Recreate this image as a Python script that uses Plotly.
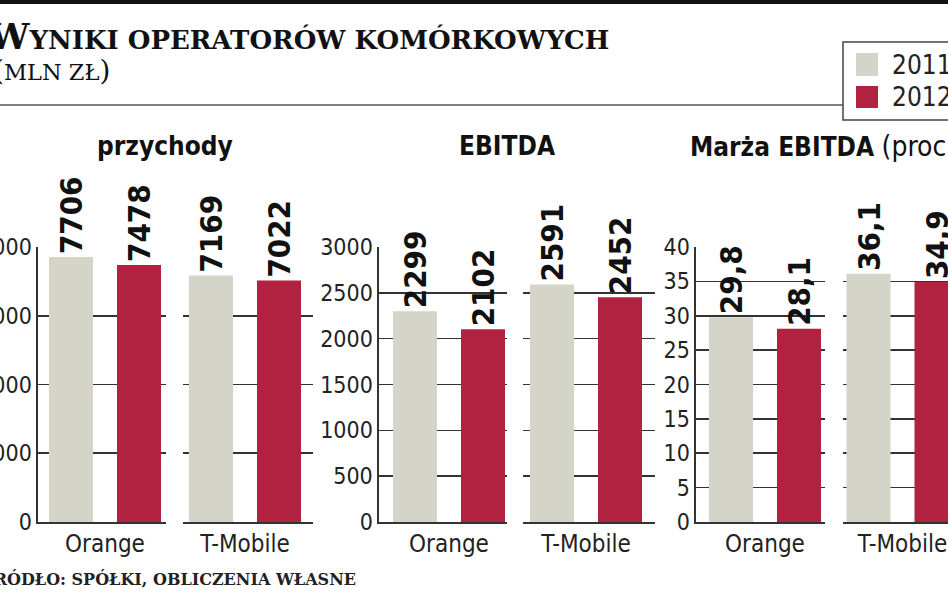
import plotly.graph_objects as go

# ---------------- data ----------------
categories = ["Orange", "T-Mobile"]
years = ["2011", "2012"]
przychody_2011 = [7706, 7169]
przychody_2012 = [7478, 7022]
ebitda_2011 = [2299, 2591]
ebitda_2012 = [2102, 2452]
marza_2011 = [29.8, 36.1]
marza_2012 = [28.1, 34.9]
panel_titles = ["<b>przychody</b>", "<b>EBITDA</b>",
                '<b>Marża EBITDA</b> <span style="font-size:28px">(proc.)</span>']
main_title = '<span style="font-size:36px">W</span>YNIKI OPERATORÓW KOMÓRKOWYCH'
subtitle = '<span style="font-size:28px">(</span>MLN ZŁ<span style="font-size:28px">)</span>'
source_text = "ŹRÓDŁO: SPÓŁKI, OBLICZENIA WŁASNE"

# ---------------- style ----------------
W, H = 948, 593
GRAY = "#d4d4c9"
RED = "#b0223f"
LINE = "#333333"
COND = "DejaVu Sans Condensed, DejaVu Sans, sans-serif"
SERIF = "DejaVu Serif, Liberation Serif, serif"
U = 160.0  # px per category unit


def px(x):
    return x / W


def py(y):
    return 1 - y / H


ydom = [py(522), py(247)]

panels = [
    dict(v2011=przychody_2011, v2012=przychody_2012, rng=[0, 8000], dtick=2000,
         fmt="%{y:.0f}", segs=[(38, 166, 105), (183, 313, 245)], tx=164.5, anchor="center"),
    dict(v2011=ebitda_2011, v2012=ebitda_2012, rng=[0, 3000], dtick=500,
         fmt="%{y:.0f}", segs=[(379, 507, 449), (523, 655, 586)], tx=507, anchor="center"),
    dict(v2011=marza_2011, v2012=marza_2012, rng=[0, 40], dtick=5,
         fmt="%{y:.1f}", segs=[(696, 825, 765), (843, 948, 902.5)], tx=688, anchor="left"),
]

fig = go.Figure()
layout_axes = {}
n = 0
for p in panels:
    for si, (d0, d1, c) in enumerate(p["segs"]):
        n += 1
        xa = "x" if n == 1 else f"x{n}"
        ya = "y" if n == 1 else f"y{n}"
        cat = categories[si]
        for yr, vals, col in ((years[0], p["v2011"], GRAY), (years[1], p["v2012"], RED)):
            fig.add_trace(go.Bar(
                x=[cat], y=[vals[si]], name=yr, marker=dict(color=col, line=dict(width=0)),
                xaxis=xa, yaxis=ya, texttemplate=p["fmt"], textposition="outside",
                textangle=-90, constraintext="none", cliponaxis=False,
                textfont=dict(family=COND, size=31, color="#111111", weight="bold"),
                showlegend=False, hoverinfo="skip",
            ))
        layout_axes["xaxis" if n == 1 else f"xaxis{n}"] = dict(
            domain=[px(d0), px(d1)], anchor=ya, type="category", automargin=False,
            range=[(d0 - c) / U, (d1 - c) / U], showline=True, linecolor=LINE, linewidth=1.6,
            showgrid=False, ticks="", tickfont=dict(family=COND, size=24, color="#222222"),
            fixedrange=True,
        )
        layout_axes["yaxis" if n == 1 else f"yaxis{n}"] = dict(
            domain=ydom, anchor=xa, range=p["rng"], dtick=p["dtick"], tick0=0,
            automargin=False,
            showgrid=True, gridcolor=LINE, gridwidth=1.6, zeroline=False,
            showline=(si == 0), linecolor=LINE, linewidth=1.6,
            showticklabels=(si == 0), ticks="",
            tickfont=dict(family=COND, size=23, color="#222222"), fixedrange=True,
        )

annotations = []
for p, t in zip(panels, panel_titles):
    annotations.append(dict(
        text=t, xref="paper", yref="paper", x=px(p["tx"]), y=py(146), xanchor=p["anchor"],
        yanchor="middle", showarrow=False, font=dict(family=COND, size=26, color="#111111"),
    ))

annotations += [
    dict(text="<b>" + main_title + "</b>", xref="paper", yref="paper", x=px(611), y=py(36),
         xanchor="right", yanchor="middle", showarrow=False,
         font=dict(family=SERIF, size=26, color="#111111")),
    dict(text=subtitle, xref="paper", yref="paper", x=px(112), y=py(70),
         xanchor="right", yanchor="middle", showarrow=False,
         font=dict(family=SERIF, size=22.5, color="#111111")),
    dict(text="<b>" + source_text + "</b>", xref="paper", yref="paper", x=px(358), y=py(579),
         xanchor="right", yanchor="middle", showarrow=False,
         font=dict(family=SERIF, size=16, color="#222222")),
    dict(text=years[0], xref="paper", yref="paper", x=px(890), y=py(65),
         xanchor="left", yanchor="middle", showarrow=False,
         font=dict(family=COND, size=26, color="#222222")),
    dict(text=years[1], xref="paper", yref="paper", x=px(890), y=py(97),
         xanchor="left", yanchor="middle", showarrow=False,
         font=dict(family=COND, size=26, color="#222222")),
]

shapes = [
    dict(type="rect", xref="paper", yref="paper", x0=0, x1=1, y0=py(4), y1=py(-2),
         fillcolor="#111111", line=dict(width=0)),
    dict(type="line", xref="paper", yref="paper", x0=0, x1=px(843), y0=py(105), y1=py(105),
         line=dict(color="#555555", width=1.5)),
    dict(type="rect", xref="paper", yref="paper", x0=px(843), x1=px(980), y0=py(120), y1=py(42),
         fillcolor="white", line=dict(color="#444444", width=1.5)),
    dict(type="rect", xref="paper", yref="paper", x0=px(856), x1=px(878), y0=py(76), y1=py(53),
         fillcolor=GRAY, line=dict(width=0)),
    dict(type="rect", xref="paper", yref="paper", x0=px(856), x1=px(878), y0=py(108), y1=py(86),
         fillcolor=RED, line=dict(width=0)),
]

fig.update_layout(
    width=W, height=H, margin=dict(l=0, r=0, t=0, b=0, autoexpand=False),
    paper_bgcolor="white", plot_bgcolor="white",
    barmode="group", bargap=0.15, bargroupgap=0.353,
    separators=", ", showlegend=False,
    annotations=annotations, shapes=shapes, **layout_axes,
)

fig.write_html(
    "out.html",
    config={"displayModeBar": False, "staticPlot": True},
    post_script="document.body.style.margin='0';document.body.style.overflow='hidden';",
)
